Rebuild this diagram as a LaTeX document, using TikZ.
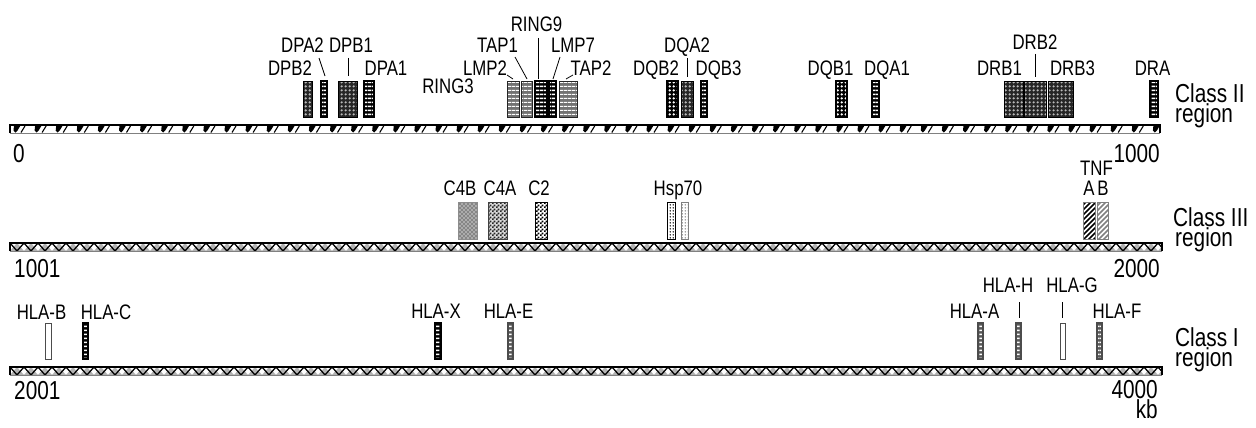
\documentclass[tikz,border=0pt]{standalone}
\usepackage{fontspec}
\setmainfont{Liberation Sans}[FakeStretch=0.8]
\usetikzlibrary{patterns}
\pgfdeclarepatternformonly{hbar}{\pgfqpoint{0pt}{0pt}}{\pgfqpoint{4pt}{4pt}}{\pgfqpoint{4pt}{4pt}}{\pgfpathrectangle{\pgfqpoint{0pt}{1pt}}{\pgfqpoint{4pt}{2pt}}\pgfusepath{fill}}
\pgfdeclarepatternformonly{hthin}{\pgfqpoint{0pt}{0pt}}{\pgfqpoint{4pt}{4pt}}{\pgfqpoint{4pt}{4pt}}{\pgfpathrectangle{\pgfqpoint{0pt}{1.5pt}}{\pgfqpoint{4pt}{1pt}}\pgfusepath{fill}}
\pgfdeclarepatternformonly{gdots}{\pgfqpoint{0pt}{0pt}}{\pgfqpoint{4pt}{4pt}}{\pgfqpoint{4pt}{4pt}}{\pgfpathcircle{\pgfqpoint{2pt}{2pt}}{1.45pt}\pgfusepath{fill}}
\pgfdeclarepatternformonly{sdots}{\pgfqpoint{0pt}{0pt}}{\pgfqpoint{3pt}{3pt}}{\pgfqpoint{3pt}{3pt}}{\pgfpathcircle{\pgfqpoint{1.5pt}{1.5pt}}{0.9pt}\pgfusepath{fill}}
\pgfdeclarepatternformonly{checker}{\pgfqpoint{0pt}{0pt}}{\pgfqpoint{4pt}{4pt}}{\pgfqpoint{4pt}{4pt}}{\pgfpathrectangle{\pgfqpoint{0pt}{0pt}}{\pgfqpoint{2pt}{2pt}}\pgfpathrectangle{\pgfqpoint{2pt}{2pt}}{\pgfqpoint{2pt}{2pt}}\pgfusepath{fill}}
\pgfdeclarepatternformonly{xhatch}{\pgfqpoint{-1pt}{-1pt}}{\pgfqpoint{5pt}{5pt}}{\pgfqpoint{4pt}{4pt}}{\pgfsetlinewidth{1.1pt}\pgfpathmoveto{\pgfqpoint{0pt}{0pt}}\pgfpathlineto{\pgfqpoint{4.1pt}{4.1pt}}\pgfpathmoveto{\pgfqpoint{0pt}{4pt}}\pgfpathlineto{\pgfqpoint{4.1pt}{-0.1pt}}\pgfusepath{stroke}}
\pgfdeclarepatternformonly{diag}{\pgfqpoint{-1pt}{-1pt}}{\pgfqpoint{6pt}{6pt}}{\pgfqpoint{5pt}{5pt}}{\pgfsetlinewidth{1.5pt}\pgfpathmoveto{\pgfqpoint{0pt}{0pt}}\pgfpathlineto{\pgfqpoint{5.1pt}{5.1pt}}\pgfusepath{stroke}}
\newcommand\gfont{\fontsize{21}{24}\selectfont}
\newcommand\bfont{\fontsize{26}{20}\selectfont}
\newcommand\gbox[6]{\node[#2, anchor=north west, minimum width={#4pt-#3pt}, minimum height={#6pt-#5pt}] (#1) at (#3,#5) {};}
\begin{document}
\begin{tikzpicture}[x=1pt,y=-1pt,
  lbl/.style={font=\gfont, inner sep=0pt, anchor=base},
  big/.style={font=\bfont, inner sep=0pt, anchor=base west},
  classlbl/.style={font=\bfont, inner sep=0pt, anchor=north west, align=left},
  bigr/.style={font=\bfont, inner sep=0pt, anchor=base east},
  leader/.style={draw=black, line width=0.8pt},
  genebase/.style={inner sep=0pt, outer sep=0pt},
  ladderbox/.style={genebase, fill=black, postaction={pattern=hbar, pattern color=white}, postaction={draw=black, line width=1.1pt}},
  greyladder/.style={genebase, fill=black!65, postaction={pattern=hbar, pattern color=white}, postaction={draw=black!70, line width=1.1pt}},
  dotbox/.style={genebase, fill=black!85, postaction={pattern=gdots, pattern color=gray!55}, postaction={draw=black, line width=0.9pt}},
  wdotbox/.style={genebase, fill=black, postaction={pattern=gdots, pattern color=white}, postaction={draw=black, line width=1.1pt}},
  stripebox/.style={genebase, fill=black!55, postaction={pattern=hthin, pattern color=white}, postaction={draw=black!85, line width=0.9pt}},
  crossbox/.style={genebase, fill=gray!35, postaction={pattern=xhatch, pattern color=gray!95}, postaction={draw=gray!90, line width=0.9pt}},
  checkbox/.style={genebase, fill=gray!30, postaction={pattern=checker, pattern color=black!85}, postaction={draw=black!75, line width=0.9pt}},
  checkbbox/.style={genebase, fill=white, postaction={pattern=checker, pattern color=black}, postaction={draw=black, line width=0.9pt}},
  hspbox/.style={genebase, fill=white, postaction={pattern=sdots, pattern color=black}, postaction={draw=black, line width=0.8pt}},
  hspgbox/.style={genebase, fill=white, postaction={pattern=sdots, pattern color=gray}, postaction={draw=gray, line width=0.8pt}},
  tnfabox/.style={genebase, fill=white, postaction={pattern=diag, pattern color=black}, postaction={draw=gray, line width=0.8pt}},
  tnfbbox/.style={genebase, fill=white, postaction={pattern=diag, pattern color=gray}, postaction={draw=gray, line width=0.8pt}},
  openbox/.style={genebase, fill=white, draw=black!70, line width=0.9pt}
]
\useasboundingbox (0,0) rectangle (1256,428);

% ---------- chromosome bars ----------
% Class II bar
\fill[white] (10,125) rectangle (1160,133);
\begin{scope}
\clip (10,125) rectangle (1160,133);
\foreach \i in {0,...,54} {
  \fill[black] ({14+\i*21.1},125.5) -- ++(6.5,0) -- ++(-3,5) -- ++(-2,2) -- ++(-2,-2) -- cycle;
  \draw[black, line width=1.1pt] ({21+\i*21.1},132.5) -- ++(4,-6.5);
}
\end{scope}
\draw[line width=1.4pt] (10,133) -- (10,125) -- (1160,125) -- (1160,133);
\draw[gray, line width=1.4pt] (10,133.7) -- (1160,133.7);

% Class III bar
\fill[white] (10,243) rectangle (1162,251);
\begin{scope}
\clip (10,243) rectangle (1162,251);
\foreach \i in {0,...,82} {
  \fill[gray!60] ({10+\i*14},251) -- ++(7,-8) -- ++(7,8) -- cycle;
}
\draw[black, line width=1.3pt] (10,243) \foreach \i in {0,...,82} { -- ({17+\i*14},251) -- ({24+\i*14},243) };
\end{scope}
\draw[line width=1.4pt] (10,251) -- (10,243) -- (1162,243) -- (1162,251);
\draw[gray, line width=1.4pt] (10,251.7) -- (1162,251.7);

% Class I bar
\fill[white] (10,367) rectangle (1162,375);
\begin{scope}
\clip (10,367) rectangle (1162,375);
\foreach \i in {0,...,82} {
  \fill[gray!60] ({10+\i*14},375) -- ++(7,-8) -- ++(7,8) -- cycle;
}
\draw[black, line width=1.3pt] (10,367) \foreach \i in {0,...,82} { -- ({17+\i*14},375) -- ({24+\i*14},367) };
\end{scope}
\draw[line width=1.4pt] (10,375) -- (10,367) -- (1162,367) -- (1162,375);
\draw[gray, line width=1.4pt] (10,375.7) -- (1162,375.7);

% ---------- Class II genes ----------
\gbox{dpb2}{dotbox}{303}{312}{81}{117}
\gbox{dpa2}{ladderbox}{321}{327}{81}{117}
\gbox{dpb1}{dotbox}{338}{357}{81}{117}
\gbox{dpa1}{ladderbox}{364}{374}{81}{117}
\gbox{lmp2}{stripebox}{507}{519}{81}{117}
\gbox{tap1}{stripebox}{521}{532}{81}{117}
\gbox{ring9}{ladderbox}{535}{547}{81}{117}
\gbox{lmp7}{ladderbox}{549}{556}{81}{117}
\gbox{tap2}{stripebox}{559}{577}{81}{117}
\gbox{dqb2}{wdotbox}{667}{678}{81}{117}
\gbox{dqa2}{dotbox}{681}{693}{81}{117}
\gbox{dqb3}{ladderbox}{701}{707}{81}{117}
\gbox{dqb1}{wdotbox}{836}{847}{81}{117}
\gbox{dqa1}{ladderbox}{872}{879}{81}{117}
\gbox{drb1}{dotbox}{1004}{1023}{81}{117}
\gbox{drb2}{dotbox}{1024}{1046}{81}{117}
\gbox{drb3}{dotbox}{1048}{1073}{81}{117}
\gbox{dra}{ladderbox}{1150}{1158}{81}{117}

\node[lbl] (l-ring9) at (536.5,32) {RING9};
\node[lbl] (l-tap1) at (497.5,53) {TAP1};
\node[lbl] (l-lmp7) at (573,53) {LMP7};
\node[lbl] (l-dpa2) at (302.5,53) {DPA2};
\node[lbl] (l-dpb1) at (351,53) {DPB1};
\node[lbl] (l-dpb2) at (290,75) {DPB2};
\node[lbl] (l-dpa1) at (386,75) {DPA1};
\node[lbl] (l-ring3) at (448,93) {RING3};
\node[lbl] (l-lmp2) at (485,75) {LMP2};
\node[lbl] (l-tap2) at (591,75) {TAP2};
\node[lbl] (l-dqa2) at (687,53) {DQA2};
\node[lbl] (l-dqb2) at (656,76) {DQB2};
\node[lbl] (l-dqb3) at (718.5,76) {DQB3};
\node[lbl] (l-dqb1) at (830.5,76) {DQB1};
\node[lbl] (l-dqa1) at (887,76) {DQA1};
\node[lbl] (l-drb2) at (1035,50) {DRB2};
\node[lbl] (l-drb1) at (999.5,76) {DRB1};
\node[lbl] (l-drb3) at (1072.5,76) {DRB3};
\node[lbl] (l-dra) at (1152.5,76) {DRA};

\coordinate (c-dpa2a) at (319,58);   \coordinate (c-dpa2b) at (325,76);
\coordinate (c-dpb1a) at (348,58);   \coordinate (c-dpb1b) at (348,76);
\coordinate (c-lmp2a) at (507,75);   \coordinate (c-lmp2b) at (513,79);
\coordinate (c-tap1a) at (515,57);   \coordinate (c-tap1b) at (527,79);
\coordinate (c-ring9a) at (538,38);  \coordinate (c-ring9b) at (538,79);
\coordinate (c-lmp7a) at (560,57);   \coordinate (c-lmp7b) at (553,79);
\coordinate (c-tap2a) at (573,75);   \coordinate (c-tap2b) at (566,79);
\coordinate (c-dqa2a) at (687,58);   \coordinate (c-dqa2b) at (687,77);
\coordinate (c-drb2a) at (1035,54);  \coordinate (c-drb2b) at (1035,77);
\foreach \g in {dpa2,dpb1,lmp2,tap1,ring9,lmp7,tap2,dqa2,drb2}
  \draw[leader] (c-\g a) -- (c-\g b);

\node[classlbl] (cl2) at (1175,83) {Class II\\region};
\node[big] (n0) at (13,162) {0};
\node[bigr] (n1000) at (1160,162) {1000};

% ---------- Class III genes ----------
\gbox{c4b}{crossbox}{458}{477}{202}{239}
\gbox{c4a}{checkbox}{488}{507}{202}{239}
\gbox{c2}{checkbbox}{535}{547}{202}{239}
\gbox{hspa}{hspbox}{667}{675}{202}{239}
\gbox{hspb}{hspgbox}{681}{688}{202}{239}
\gbox{tnfa}{tnfabox}{1083}{1095}{202}{239}
\gbox{tnfb}{tnfbbox}{1097}{1108}{202}{239}

\node[lbl] (l-c4b) at (460,195) {C4B};
\node[lbl] (l-c4a) at (500,195) {C4A};
\node[lbl] (l-c2) at (539,195) {C2};
\node[lbl] (l-hsp) at (678,195) {Hsp70};
\node[lbl] (l-tnf) at (1096.5,175) {TNF};
\node[lbl] (l-a) at (1089,195) {A};
\node[lbl] (l-b) at (1103,195) {B};

\node[classlbl] (cl3) at (1173,207) {Class III\\\hspace*{2pt}region};
\node[big] (n1001) at (14,277) {1001};
\node[bigr] (n2000) at (1160,277) {2000};

% ---------- Class I genes ----------
\gbox{hlab}{openbox}{45}{51}{323}{359}
\gbox{hlac}{ladderbox}{83}{88}{323}{359}
\gbox{hlax}{ladderbox}{435}{441}{323}{359}
\gbox{hlae}{greyladder}{508}{513}{323}{359}
\gbox{hlaa}{greyladder}{978}{983}{323}{359}
\gbox{hlah}{greyladder}{1016}{1021}{323}{359}
\gbox{hlag}{openbox}{1060}{1065}{323}{359}
\gbox{hlaf}{greyladder}{1097}{1102}{323}{359}

\node[lbl] (l-hlab) at (41.5,319) {HLA-B};
\node[lbl] (l-hlac) at (106,319) {HLA-C};
\node[lbl] (l-hlax) at (436,318) {HLA-X};
\node[lbl] (l-hlae) at (508.5,318) {HLA-E};
\node[lbl] (l-hlaa) at (974.5,318) {HLA-A};
\node[lbl] (l-hlah) at (1008,292) {HLA-H};
\node[lbl] (l-hlag) at (1072,292) {HLA-G};
\node[lbl] (l-hlaf) at (1117,318) {HLA-F};

\coordinate (c-hlaha) at (1019,302); \coordinate (c-hlahb) at (1019,318);
\coordinate (c-hlaga) at (1062,302); \coordinate (c-hlagb) at (1062,318);
\draw[leader] (c-hlaha) -- (c-hlahb);
\draw[leader] (c-hlaga) -- (c-hlagb);

\node[classlbl] (cl1) at (1175,327) {Class I\\region};
\node[big] (n2001) at (14,399) {2001};
\node[font=\bfont, inner sep=0pt, anchor=north east, align=right] (n4000) at (1158,380.5) {4000\\kb};
\end{tikzpicture}
\end{document}
